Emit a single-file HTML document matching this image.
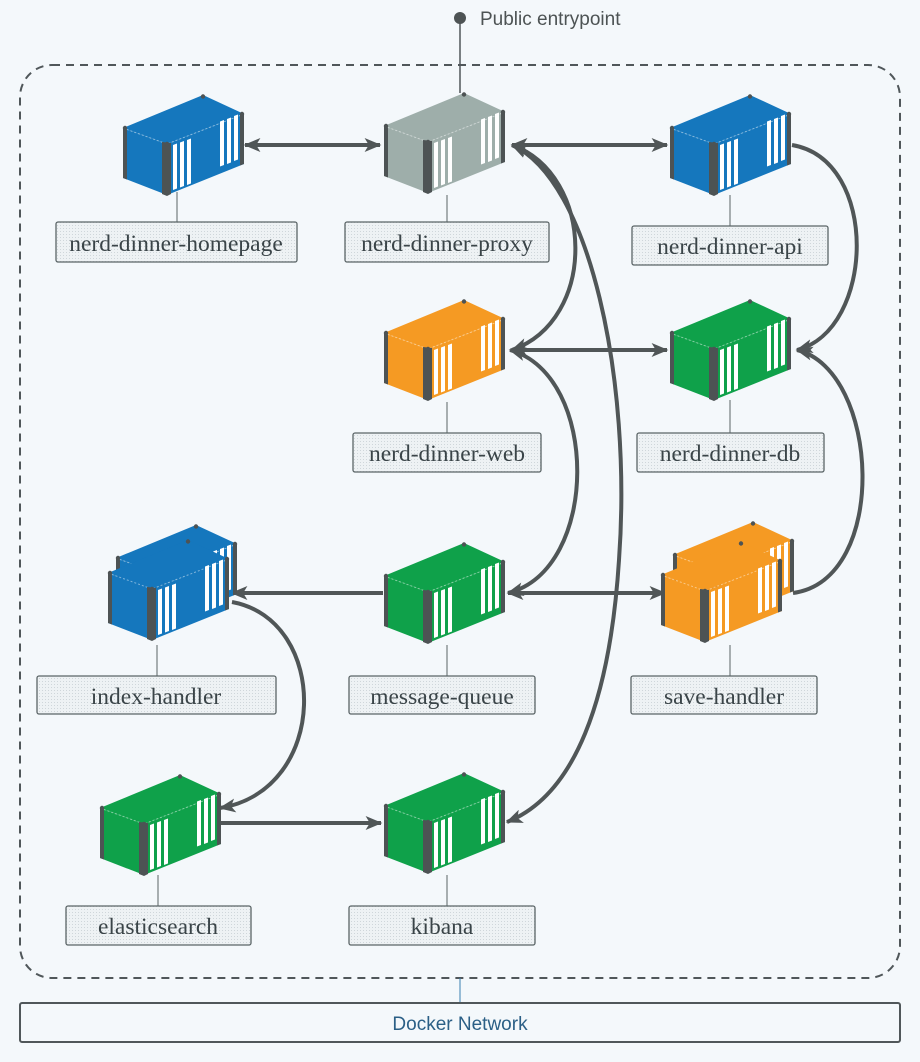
<!DOCTYPE html>
<html><head><meta charset="utf-8"><style>
html,body{margin:0;padding:0;background:#f4f8fb;}
svg{display:block;}
.lbl{font-family:"Liberation Serif",serif;font-size:23.5px;fill:#3a4448;}
</style></head><body>
<svg width="920" height="1062" viewBox="0 0 920 1062" xmlns="http://www.w3.org/2000/svg">
<defs>
<pattern id="dots" width="3" height="3" patternUnits="userSpaceOnUse"><rect width="3" height="3" fill="#eef2f4"/><rect width="1" height="1" fill="#cfd6da"/></pattern>
<marker id="ah" viewBox="0 0 12 10" refX="11" refY="5" markerWidth="4.2" markerHeight="4.2" orient="auto-start-reverse" markerUnits="strokeWidth">
<path d="M0,0 L12,5 L0,10 L3,5 Z" fill="#505657"/></marker>
<g id="c">
<path d="M0,33 L80,0 L121,19 L44,49 Z" fill="currentColor"/>
<path d="M0,33 L44,49 L44,100 L0,83 Z" fill="currentColor"/>
<path d="M44,49 L121,19 L121,69 L44,100 Z" fill="currentColor"/>
<path d="M0,33 L44,49 L121,19" fill="none" stroke="#fff" stroke-opacity=".45" stroke-width="1" stroke-dasharray="2,2"/>
<g fill="#fff">
<path d="M50,50 L54,48.5 L54,93.5 L50,95 Z"/>
<path d="M57,47.5 L61,46 L61,91 L57,92.5 Z"/>
<path d="M64,45 L68,43.5 L68,88.5 L64,90 Z"/>
<path d="M97,26.5 L101,25 L101,70 L97,71.5 Z"/>
<path d="M104,24 L108,22.5 L108,67.5 L104,69 Z"/>
<path d="M111,21 L115,19.5 L115,64.5 L111,66 Z"/>
</g>
<g fill="#4d5354">
<path d="M0,33 L4,34.5 L4,84.5 L0,83 Z"/>
<path d="M39,47 L48,48 L48,99 L44,101 L39,99 Z"/>
<path d="M117,20 L121,19 L121,69 L117,70.5 Z"/>
<circle cx="44" cy="49" r="2.2"/><circle cx="80" cy="1.5" r="2.2"/><circle cx="119" cy="19" r="2.2"/><circle cx="2" cy="33" r="2.2"/>
</g>
</g>
</defs>

<rect x="20" y="65" width="880" height="913" rx="32" fill="none" stroke="#50575a" stroke-width="2" stroke-dasharray="8,6"/>
<line x1="460" y1="18" x2="460" y2="93" stroke="#50575a" stroke-width="1.5"/>
<circle cx="460" cy="18" r="6" fill="#4d5354"/>
<text x="480" y="25" font-family="Liberation Sans,sans-serif" font-size="19" fill="#4d5354">Public entrypoint</text>
<line x1="460" y1="978" x2="460" y2="1003" stroke="#3a7fb0" stroke-width="1"/>
<rect x="20" y="1003" width="880" height="39" rx="2" fill="none" stroke="#50575a" stroke-width="2"/>
<text x="460" y="1030" text-anchor="middle" font-family="Liberation Sans,sans-serif" font-size="19" fill="#2b5f86">Docker Network</text>

<g fill="none" stroke="#505657" stroke-width="4">
<line x1="245" y1="145" x2="380" y2="145" marker-start="url(#ah)" marker-end="url(#ah)"/>
<line x1="512" y1="145" x2="667" y2="145" marker-start="url(#ah)" marker-end="url(#ah)"/>
<line x1="512" y1="350" x2="667" y2="350" marker-start="url(#ah)" marker-end="url(#ah)"/>
<line x1="383" y1="593" x2="232" y2="593" marker-end="url(#ah)"/>
<line x1="508" y1="593" x2="665" y2="593" marker-start="url(#ah)" marker-end="url(#ah)"/>
<line x1="220" y1="823" x2="381" y2="823" marker-end="url(#ah)"/>
<path d="M512,145 C595,175 598,320 512,350" marker-start="url(#ah)" marker-end="url(#ah)"/>
<path d="M512,145 C590,180 632,380 619,560 C610,700 575,795 507,822" marker-start="url(#ah)" marker-end="url(#ah)"/>
<path d="M792,145 C880,160 875,330 797,350" marker-end="url(#ah)"/>
<path d="M510,350 C600,375 600,570 508,593" marker-start="url(#ah)" marker-end="url(#ah)"/>
<path d="M793,593 C890,580 880,370 797,350" marker-end="url(#ah)"/>
<path d="M232,602 C330,620 330,790 220,808" marker-end="url(#ah)"/>
</g>

<use href="#c" x="123" y="95" color="#1577bd"/>
<use href="#c" x="384" y="93" color="#9eaeaa"/>
<use href="#c" x="670" y="95" color="#1577bd"/>
<use href="#c" x="384" y="300" color="#f59a23"/>
<use href="#c" x="670" y="300" color="#0fa14a"/>
<use href="#c" x="116" y="525" color="#1577bd"/>
<use href="#c" x="108" y="540" color="#1577bd"/>
<use href="#c" x="384" y="543" color="#0fa14a"/>
<use href="#c" x="673" y="522" color="#f59a23"/>
<use href="#c" x="661" y="542" color="#f59a23"/>
<use href="#c" x="100" y="775" color="#0fa14a"/>
<use href="#c" x="384" y="773" color="#0fa14a"/>

<g stroke="#5a6466" stroke-width="1">
<line x1="177" y1="192" x2="177" y2="222"/>
<line x1="447" y1="195" x2="447" y2="222"/>
<line x1="730" y1="195" x2="730" y2="226"/>
<line x1="447" y1="402" x2="447" y2="433"/>
<line x1="730" y1="400" x2="730" y2="433"/>
<line x1="157" y1="645" x2="157" y2="676"/>
<line x1="447" y1="645" x2="447" y2="676"/>
<line x1="730" y1="645" x2="730" y2="676"/>
<line x1="158" y1="875" x2="158" y2="906"/>
<line x1="447" y1="875" x2="447" y2="906"/>
</g>

<g fill="url(#dots)" stroke="#5a6466" stroke-width="1.3">
<rect x="56" y="222" width="241" height="40" rx="2"/>
<rect x="345" y="222" width="204" height="40" rx="2"/>
<rect x="632" y="226" width="196" height="39" rx="2"/>
<rect x="353" y="433" width="188" height="39" rx="2"/>
<rect x="637" y="433" width="187" height="39" rx="2"/>
<rect x="37" y="676" width="239" height="38" rx="2"/>
<rect x="349" y="676" width="186" height="38" rx="2"/>
<rect x="631" y="676" width="186" height="38" rx="2"/>
<rect x="66" y="906" width="185" height="39" rx="2"/>
<rect x="349" y="906" width="186" height="39" rx="2"/>
</g>
<g class="lbl" text-anchor="middle">
<text x="176" y="251">nerd-dinner-homepage</text>
<text x="447" y="251">nerd-dinner-proxy</text>
<text x="730" y="254">nerd-dinner-api</text>
<text x="447" y="461">nerd-dinner-web</text>
<text x="730" y="461">nerd-dinner-db</text>
<text x="156" y="704">index-handler</text>
<text x="442" y="704">message-queue</text>
<text x="724" y="704">save-handler</text>
<text x="158" y="934">elasticsearch</text>
<text x="442" y="934">kibana</text>
</g>
</svg>
</body></html>
